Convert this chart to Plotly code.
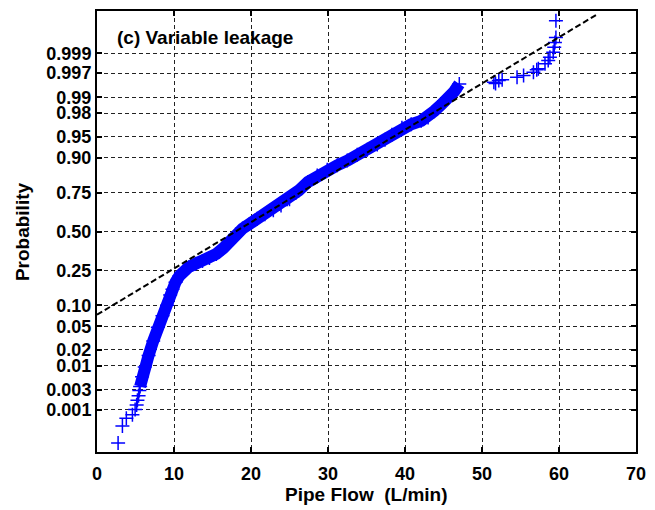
import plotly.graph_objects as go
from statistics import NormalDist

nd = NormalDist()

# Normal-probability axis
prob_ticks = [0.001, 0.003, 0.01, 0.02, 0.05, 0.10, 0.25, 0.50,
              0.75, 0.90, 0.95, 0.98, 0.99, 0.997, 0.999]
prob_labels = ["0.001", "0.003", "0.01", "0.02", "0.05", "0.10", "0.25", "0.50",
               "0.75", "0.90", "0.95", "0.98", "0.99", "0.997", "0.999"]
flow_ticks = [0, 10, 20, 30, 40, 50, 60, 70]

# Sorted pipe-flow observations (L/min) and their normal scores
lower_flow = [2.74, 3.3, 3.81, 4.6, 4.95, 5.15, 5.25, 5.4, 5.5]
lower_score = [-3.672, -3.373, -3.24, -3.18, -3.09, -3.01, -2.93, -2.85, -2.76]

body_flow = [5.6, 5.85, 6.2, 6.7, 7.3, 7.9, 8.5, 9.1, 9.5, 9.8,
             10.2, 10.7, 11.3, 11.9, 12.8, 13.7, 14.6, 15.5, 16.4, 17.2,
             18.0, 18.9, 19.8, 20.8, 21.8, 22.9, 23.9, 25.0, 26.2, 27.4,
             28.6, 29.9, 31.2, 32.5, 33.8, 35.1, 36.4, 37.4, 38.3, 39.6,
             40.8, 42.1, 43.0, 43.8, 44.7, 45.6, 46.4, 47.05]
body_score = [-2.69, -2.52, -2.35, -2.15, -1.90, -1.66, -1.46, -1.28, -1.10, -1.00,
              -0.88, -0.77, -0.68, -0.62, -0.56, -0.51, -0.46, -0.39, -0.29, -0.17,
              -0.05, 0.05, 0.13, 0.22, 0.30, 0.37, 0.45, 0.56, 0.71, 0.86,
              0.97, 1.07, 1.15, 1.23, 1.33, 1.42, 1.51, 1.59, 1.68, 1.80,
              1.86, 1.92, 1.98, 2.09, 2.20, 2.31, 2.43, 2.56]

upper_flow = [51.54, 51.76, 52.18, 52.62, 54.55, 55.4, 56.68, 57.11, 57.32,
              58.18, 58.6, 58.82, 59.25, 59.38, 59.47, 59.6, 59.6]
upper_score = [2.59, 2.57, 2.62, 2.632, 2.677, 2.706, 2.763, 2.805, 2.822,
               2.909, 2.966, 3.022, 3.109, 3.195, 3.28, 3.368, 3.656]

# Fitted normal reference line
ref_mean = 18.0
ref_std = 12.46
ref_flow_span = [-2.0, 64.8]

FONT = "Liberation Sans"
BLUE = "#0000ff"

prob_pos = [nd.inv_cdf(p) for p in prob_ticks]
y_lim = 3.826

marker = dict(symbol="cross-thin", size=10, color=BLUE,
              line=dict(color=BLUE, width=1.5))

fig = go.Figure()

fig.add_trace(go.Scatter(
    x=body_flow, y=body_score, mode="lines+markers",
    line=dict(color=BLUE, width=12), marker=marker,
    showlegend=False, hoverinfo="skip"))

fig.add_trace(go.Scatter(
    x=lower_flow + upper_flow, y=lower_score + upper_score, mode="markers",
    marker=marker, showlegend=False, hoverinfo="skip"))

ref_score = [(f - ref_mean) / ref_std for f in ref_flow_span]
fig.add_trace(go.Scatter(
    x=ref_flow_span, y=ref_score, mode="lines",
    line=dict(color="black", width=2, dash="6px,3px"),
    showlegend=False, hoverinfo="skip"))

axis_common = dict(
    showline=True, linecolor="black", linewidth=2, mirror="ticks",
    ticks="inside", ticklen=5, tickwidth=1.5, tickcolor="black",
    showgrid=True, gridcolor="#222222", gridwidth=1, griddash="4px,3px",
    zeroline=False,
    tickfont=dict(family=FONT, size=18, color="black", weight="bold"),
)

fig.update_xaxes(range=[0, 70], tickvals=flow_ticks,
                 ticktext=[str(t) for t in flow_ticks],
                 ticklabelstandoff=4, **axis_common)
fig.update_yaxes(range=[-y_lim, y_lim], tickvals=prob_pos,
                 ticktext=prob_labels, **axis_common)

title_font = dict(family=FONT, size=19, color="black", weight="bold")

fig.update_layout(
    width=655, height=510,
    margin=dict(l=97, r=13, t=9, b=58),
    plot_bgcolor="white", paper_bgcolor="white",
    font=dict(family=FONT, color="black"),
    annotations=[
        dict(text="(c) Variable leakage", xref="paper", yref="paper",
             x=0.033, y=0.941, xanchor="left", yanchor="middle",
             showarrow=False, font=title_font),
        dict(text="Pipe Flow  (L/min)", xref="paper", yref="paper",
             x=0.5, y=-0.097, xanchor="center", yanchor="middle",
             showarrow=False, font=title_font),
        dict(text="Probability", xref="paper", yref="paper",
             x=-0.138, y=0.5, textangle=-90, xanchor="center", yanchor="middle",
             showarrow=False, font=title_font),
    ],
)

fig.write_html("out.html")
